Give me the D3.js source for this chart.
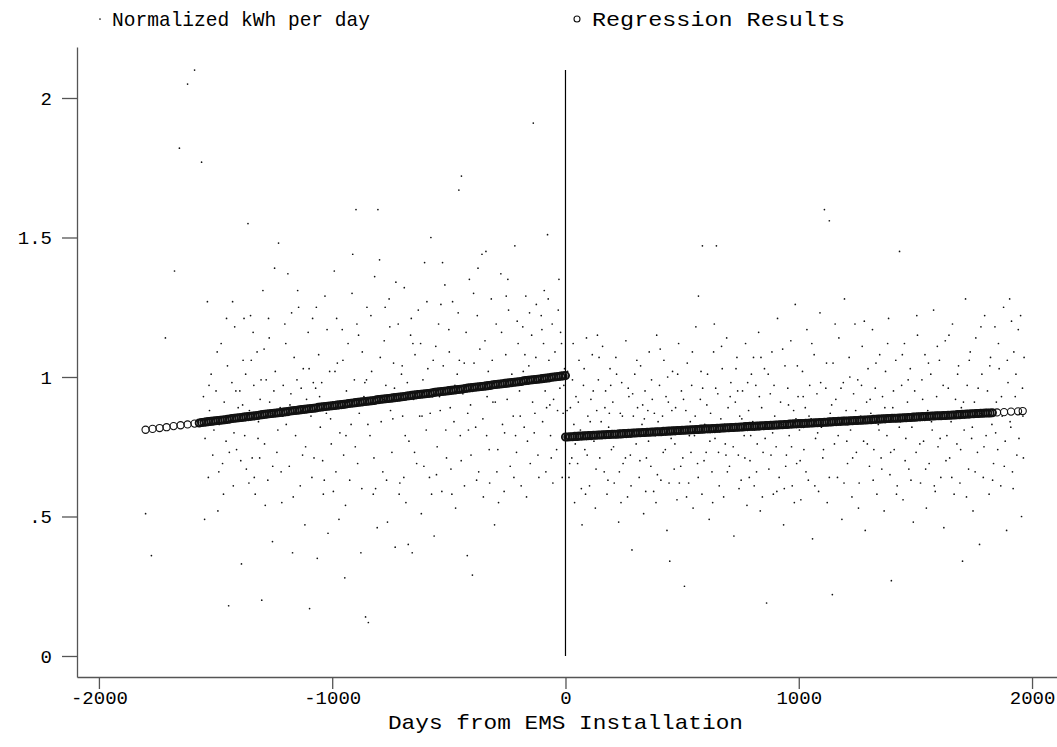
<!DOCTYPE html>
<html>
<head>
<meta charset="utf-8">
<script src="https://cdn.jsdelivr.net/npm/d3@7"></script>
<style>
  body { margin: 0; background: #fff; }
  text { font-family: "Liberation Mono", "DejaVu Sans Mono", monospace; fill: #000; }
</style>
</head>
<body>
<div id="chart"></div>
<script>
// Axis ticks
const xTicks = [-2000, -1000, 0, 1000, 2000];
const yTicks = [0, 0.5, 1, 1.5, 2];
const yTickLabels = ["0", ".5", "1", "1.5", "2"];

// Legend / titles
const legendLabels = ["Normalized kWh per day", "Regression Results"];
const xTitle = "Days from EMS Installation";

// Installation day reference line (day, top value)
const refLine = [0, 2.1];

// Normalized kWh per day, before installation [day, kWh]
const preKwh = [
  [-1800,0.51],[-1775,0.36],[-1715,1.14],[-1676,1.38],[-1655,1.82],[-1620,2.05],[-1590,2.10],[-1560,1.77],[-1547,0.49],[-1535,1.27],
  [-1552,0.93],[-1545,0.78],[-1531,0.64],[-1526,0.88],[-1519,1.01],[-1512,0.72],
  [-1498,0.95],[-1490,0.52],[-1484,0.83],[-1476,1.12],[-1470,0.69],[-1463,0.91],[-1455,0.77],[-1449,1.04],
  [-1444,0.18],[-1438,0.86],[-1430,0.98],[-1424,0.61],[-1418,1.18],[-1410,0.74],[-1403,0.89],
  [-1396,0.95],[-1389,0.33],[-1382,1.06],[-1375,0.79],[-1368,0.67],[-1361,1.55],[-1355,0.88],[-1350,1.22],
  [-1343,0.71],[-1336,0.97],[-1330,0.58],[-1322,1.09],[-1316,0.84],[-1309,0.92],[-1302,0.20],
  [-1297,1.31],[-1290,0.76],[-1283,0.99],[-1276,0.63],[-1270,1.14],[-1263,0.87],[-1256,0.41],[-1250,0.95],
  [-1244,1.02],[-1237,0.73],[-1230,1.48],[-1223,0.89],[-1216,0.55],[-1210,0.97],[-1203,1.19],
  [-1197,0.83],[-1190,1.37],[-1184,0.68],[-1177,0.94],[-1170,0.37],[-1163,1.07],[-1157,0.79],[-1151,0.99],
  [-1144,1.25],[-1137,0.61],[-1130,0.88],[-1124,1.03],[-1117,0.47],[-1110,0.92],[-1103,1.16],
  [-1097,0.17],[-1091,0.86],[-1084,1.21],[-1078,0.71],[-1071,0.96],[-1064,0.35],[-1058,1.08],[-1051,0.82],
  [-1045,0.98],[-1038,0.58],[-1031,1.29],[-1025,0.87],[-1018,0.44],[-1011,1.02],[-1004,0.76],
  [-998,0.91],[-991,1.38],[-984,0.66],[-978,1.05],[-971,0.49],[-964,0.89],[-957,1.17],[-951,0.72],
  [-946,0.28],[-939,0.95],[-932,1.12],[-925,0.63],[-919,0.83],[-912,1.44],[-905,0.99],
  [-898,1.60],[-891,0.69],[-884,0.87],[-877,0.37],[-871,1.09],[-864,0.93],[-857,0.14],[-851,1.25],
  [-845,0.12],[-838,0.79],[-831,1.02],[-824,0.58],[-818,1.36],[-811,0.91],[-804,1.60],
  [-797,1.42],[-790,0.84],[-783,0.66],[-777,1.13],[-770,0.97],[-763,0.48],[-756,1.28],[-750,0.88],
  [-744,0.73],[-737,1.05],[-730,0.39],[-724,0.94],[-717,1.19],[-710,0.62],[-703,1.01],
  [-698,0.86],[-691,1.32],[-684,0.55],[-678,0.98],[-671,0.77],[-664,1.15],[-657,0.37],[-651,0.92],
  [-645,1.08],[-638,0.69],[-631,1.24],[-625,0.86],[-618,0.51],[-611,0.99],[-604,1.41],
  [-597,0.81],[-590,1.03],[-583,0.64],[-577,1.50],[-570,0.93],[-563,0.43],[-556,1.11],[-550,0.75],
  [-544,1.19],[-537,0.88],[-530,0.59],[-524,1.04],[-517,1.33],[-510,0.71],[-503,0.96],
  [-498,1.09],[-491,0.67],[-484,1.27],[-478,0.84],[-471,0.53],[-464,1.01],[-457,1.67],[-451,0.79],
  [-446,1.72],[-440,0.94],[-433,0.61],[-426,1.16],[-419,0.87],[-412,1.35],[-405,0.72],
  [-399,0.29],[-392,1.05],[-385,0.82],[-378,1.22],[-372,0.66],[-365,0.97],[-358,1.44],[-352,0.57],
  [-345,1.13],[-338,0.79],[-331,1.02],[-325,0.62],[-318,1.28],[-311,0.91],[-304,0.47],
  [-297,1.19],[-290,0.74],[-283,0.98],[-277,1.37],[-270,0.83],[-263,0.59],[-256,1.08],[-250,0.92],
  [-244,1.24],[-237,0.68],[-230,1.01],[-224,0.86],[-217,1.47],[-210,0.73],[-203,1.12],
  [-197,0.95],[-190,0.61],[-183,1.18],[-177,0.82],[-170,1.29],[-163,0.77],[-157,1.04],[-151,0.69],
  [-145,1.15],[-138,1.91],[-131,0.87],[-125,1.26],[-118,0.72],[-111,0.99],[-104,1.22],
  [-98,0.84],[-91,1.31],[-84,0.66],[-77,1.51],[-71,1.06],[-64,0.79],[-57,1.19],[-51,0.92],
  [-45,1.09],[-38,0.74],[-31,1.24],[-24,0.96],[-17,1.12],[-10,0.87],[-4,1.03],
  [-1528,0.97],[-1507,0.81],[-1493,1.09],[-1466,0.58],[-1441,0.73],[-1427,1.27],[-1413,0.95],[-1392,0.70],[-1371,1.01],[-1357,0.62],
  [-1339,1.16],[-1318,0.78],[-1305,0.99],[-1287,0.54],[-1268,0.91],[-1247,1.39],[-1233,0.81],[-1219,0.66],[-1199,1.12],[-1181,0.90],
  [-1167,0.57],[-1148,1.31],[-1133,0.96],[-1114,0.75],[-1099,1.03],[-1087,0.64],[-1068,1.25],[-1054,0.93],[-1041,0.70],[-1022,1.17],
  [-1007,0.85],[-995,0.59],[-981,1.21],[-967,0.80],[-954,1.06],[-943,0.54],[-928,0.91],[-915,1.30],[-901,0.75],[-887,1.15],
  [-873,0.60],[-860,0.98],[-847,0.83],[-834,1.22],[-821,0.71],[-807,0.46],[-794,1.07],[-780,0.92],[-767,0.63],[-753,1.18],
  [-740,0.85],[-727,1.34],[-713,0.58],[-700,1.04],[-687,0.79],[-674,0.40],[-661,1.21],[-647,0.73],[-634,0.95],[-621,1.12],
  [-607,0.68],[-594,1.27],[-580,0.87],[-567,1.06],[-553,0.65],[-540,0.93],[-527,1.41],[-513,0.81],[-500,1.17],[-487,0.58],
  [-474,0.97],[-460,1.23],[-447,0.70],[-434,1.05],[-421,0.36],[-407,0.90],[-394,1.30],[-381,0.63],[-367,1.10],[-354,0.85],
  [-341,1.45],[-327,0.74],[-314,1.06],[-301,0.91],[-287,0.55],[-274,1.16],[-261,0.80],[-247,1.35],[-234,0.97],[-221,0.64],
  [-207,1.20],[-194,0.86],[-181,1.02],[-167,0.57],[-154,1.23],[-141,0.91],[-127,1.07],[-114,0.64],[-101,1.17],[-87,0.95],
  [-74,1.28],[-61,0.71],[-47,1.01],[-34,0.88],[-21,1.16],[-7,0.97],[-14,0.64],[-28,1.35],[-54,0.62],[-81,0.89],
  [-1378,1.21],[-1334,0.64],[-1292,1.10],[-1255,0.68],[-1212,0.86],[-1174,1.23],[-1127,0.72],[-1081,0.98],[-1034,0.63],[-988,1.02],
  [-941,0.79],[-894,1.19],[-853,0.99],[-814,0.60],[-773,1.25],[-733,0.96],[-693,0.64],[-654,1.12],[-615,0.86],[-574,0.58],
  [-534,1.26],[-494,0.89],[-455,1.06],[-416,0.81],[-375,1.39],[-336,0.93],[-294,0.66],[-254,1.29],[-214,0.79],[-174,1.08],
  [-134,0.80],[-94,1.12],[-67,0.90],[-1486,0.66],[-1453,1.21],[-1421,0.80],[-1384,0.90],[-1347,1.06],[-1311,0.71],[-1273,1.21]
];

// Normalized kWh per day, after installation [day, kWh]
const postKwh = [
  [4,0.78],[9,1.02],[15,0.64],[21,0.89],[27,0.71],[33,1.12],[39,0.55],[45,0.93],
  [52,0.69],[58,1.06],[64,0.81],[71,0.47],[77,0.97],[83,0.74],[90,1.14],[96,0.86],
  [103,0.61],[109,0.92],[115,1.08],[122,0.77],[128,0.53],[134,0.88],[141,0.99],[147,0.71],
  [153,0.84],[159,1.11],[166,0.66],[172,0.95],[178,0.58],[185,0.82],[191,1.03],[197,0.74],
  [203,0.91],[209,0.62],[216,1.07],[222,0.79],[228,0.48],[235,0.87],[241,0.98],[247,0.69],
  [253,0.81],[259,1.13],[266,0.57],[272,0.93],[278,0.72],[285,0.38],[291,0.86],[297,1.01],
  [303,0.76],[309,0.89],[316,0.64],[322,1.04],[328,0.83],[335,0.51],[341,0.95],[347,0.71],
  [353,0.88],[359,1.09],[366,0.68],[372,0.92],[378,0.59],[385,0.79],[391,1.15],[397,0.84],
  [403,0.97],[409,0.63],[416,0.86],[422,1.06],[428,0.74],[435,0.45],[441,0.91],[447,0.34],
  [453,0.78],[459,1.02],[466,0.67],[472,0.89],[478,0.56],[485,1.12],[491,0.81],[497,0.95],
  [503,0.71],[510,0.25],[516,0.88],[522,1.05],[528,0.62],[535,0.84],[541,0.97],[547,0.53],
  [553,0.79],[559,1.18],[566,0.69],[570,1.29],[578,0.92],[585,0.58],[587,1.47],[597,0.83],
  [603,0.73],[609,1.01],[616,0.49],[622,0.87],[628,0.66],[635,1.09],[641,0.78],[647,1.47],
  [653,0.94],[659,0.61],[666,0.85],[672,1.03],[678,0.57],[685,0.76],[691,1.14],[697,0.89],
  [703,0.68],[709,0.98],[716,0.81],[722,0.43],[728,0.91],[735,1.07],[741,0.72],[747,0.86],
  [753,0.63],[759,0.95],[766,0.79],[772,1.12],[778,0.54],[785,0.88],[791,0.70],[797,1.01],
  [803,0.84],[809,0.61],[816,0.97],[822,0.76],[828,1.16],[835,0.52],[841,0.89],[847,0.73],
  [853,1.03],[862,0.19],[866,0.82],[872,0.67],[878,0.94],[885,1.09],[891,0.58],[897,0.86],
  [903,0.75],[909,1.21],[916,0.64],[922,0.91],[928,0.83],[935,0.47],[941,1.04],[947,0.72],
  [953,0.96],[959,0.79],[966,1.13],[972,0.61],[978,0.88],[985,1.26],[991,0.69],[997,0.93],
  [1003,0.81],[1009,0.56],[1016,1.02],[1022,0.74],[1028,0.89],[1035,1.17],[1041,0.63],[1047,0.97],
  [1053,0.85],[1059,0.42],[1066,1.08],[1072,0.78],[1078,0.94],[1085,0.59],[1091,1.23],[1097,0.82],
  [1103,0.71],[1110,1.60],[1116,0.96],[1122,0.55],[1131,1.56],[1135,0.87],[1144,0.22],[1147,1.05],
  [1153,0.76],[1159,0.92],[1166,0.64],[1172,1.14],[1178,0.83],[1185,0.49],[1191,0.98],[1196,1.28],
  [1203,0.88],[1209,0.69],[1216,1.07],[1222,0.81],[1228,0.57],[1235,0.94],[1241,1.19],[1247,0.73],
  [1253,0.99],[1259,0.62],[1266,0.86],[1272,1.11],[1278,0.77],[1285,0.45],[1291,0.91],[1297,1.03],
  [1303,0.68],[1309,0.87],[1316,1.17],[1322,0.74],[1328,0.96],[1335,0.58],[1341,0.83],[1347,1.08],
  [1353,0.71],[1359,0.93],[1366,0.52],[1372,1.02],[1378,0.79],[1385,1.21],[1391,0.65],[1397,0.27],
  [1403,0.89],[1409,0.74],[1416,1.06],[1422,0.61],[1432,1.45],[1435,0.84],[1441,0.97],[1447,0.56],
  [1453,1.12],[1459,0.78],[1466,0.91],[1472,0.67],[1478,1.03],[1485,0.82],[1491,0.48],[1497,0.95],
  [1503,0.73],[1509,1.15],[1516,0.86],[1522,0.62],[1528,0.99],[1535,0.77],[1541,1.08],[1547,0.53],
  [1553,0.88],[1559,0.69],[1566,1.01],[1572,0.81],[1578,1.24],[1585,0.59],[1591,0.93],[1597,0.75],
  [1603,1.06],[1609,0.64],[1616,0.87],[1622,0.46],[1628,1.13],[1635,0.79],[1641,0.96],[1647,0.71],
  [1653,0.84],[1659,1.19],[1666,0.58],[1672,0.92],[1678,0.76],[1685,1.04],[1691,0.62],[1697,0.89],
  [1702,0.34],[1709,0.81],[1715,1.28],[1722,0.97],[1728,0.67],[1735,1.09],[1741,0.78],[1747,0.52],
  [1753,0.91],[1759,1.14],[1766,0.73],[1775,0.40],[1778,0.87],[1785,1.01],[1791,0.64],[1797,1.22],
  [1803,0.79],[1809,0.95],[1816,0.58],[1822,1.07],[1828,0.83],[1835,0.69],[1841,1.18],[1847,0.91],
  [1853,0.74],[1859,1.03],[1866,0.61],[1872,0.86],[1878,1.25],[1885,0.77],[1891,0.45],[1897,0.98],
  [1904,1.28],[1909,0.82],[1916,0.66],[1922,1.09],[1928,0.93],[1935,0.72],[1941,1.17],[1947,0.87],
  [1955,0.50],[1959,0.96],[1963,0.71],
  [7,0.88],[18,0.69],[30,0.99],[42,0.76],[55,0.91],[68,0.60],[80,1.03],[93,0.72],[106,0.84],[119,0.95],
  [131,0.67],[144,1.07],[157,0.78],[169,0.89],[182,0.63],[194,0.97],[206,0.75],[219,1.01],[231,0.66],[244,0.86],
  [257,0.71],[269,0.96],[281,0.61],[294,0.80],[306,1.06],[319,0.70],[331,0.90],[344,0.59],[356,0.77],[369,0.99],
  [381,0.87],[394,0.65],[406,1.10],[419,0.73],[431,0.93],[444,0.62],[456,0.88],[469,0.76],[481,1.01],[494,0.68],
  [506,0.92],[519,0.57],[531,0.79],[544,1.09],[556,0.86],[569,0.64],[581,1.02],[594,0.70],[606,0.90],[619,0.77],
  [631,0.55],[644,0.96],[656,0.73],[669,1.11],[681,0.83],[694,0.66],[706,0.93],[719,0.75],[731,1.03],[744,0.60],
  [756,0.85],[769,0.71],[781,0.98],[794,0.79],[806,1.07],[819,0.66],[831,0.93],[844,0.57],[856,0.78],[869,1.01],
  [881,0.72],[894,0.97],[906,0.59],[919,0.84],[931,1.10],[944,0.68],[956,0.90],[969,0.75],[981,0.55],[994,1.04],
  [1006,0.70],[1019,0.93],[1031,0.66],[1044,0.86],[1056,1.12],[1069,0.61],[1081,0.80],[1094,0.98],[1106,0.74],[1119,1.05],
  [1131,0.64],[1141,0.90],[1156,1.19],[1169,0.79],[1181,0.96],[1194,0.62],[1206,0.77],[1219,1.00],[1231,0.71],[1244,0.88],
  [1256,0.53],[1269,0.97],[1281,1.20],[1294,0.76],[1306,0.92],[1319,0.63],[1331,1.05],[1344,0.81],[1356,0.67],[1369,0.89],
  [1381,1.12],[1394,0.73],[1406,0.95],[1419,0.58],[1431,0.82],[1444,1.08],[1456,0.70],[1469,0.99],[1481,0.63],[1494,0.86],
  [1506,1.22],[1519,0.76],[1531,0.92],[1544,0.67],[1556,1.05],[1569,0.84],[1581,0.61],[1594,1.11],[1606,0.78],[1619,0.97],
  [1631,0.70],[1644,1.15],[1656,0.64],[1669,0.86],[1681,1.01],[1694,0.74],[1706,0.91],[1719,0.57],[1731,1.06],[1744,0.82],
  [1756,0.66],[1769,0.96],[1781,1.18],[1794,0.75],[1806,0.88],[1819,1.04],[1831,0.63],[1844,0.80],[1856,1.12],[1869,0.93],
  [1881,0.68],[1894,1.06],[1906,0.84],[1919,0.60],[1931,1.01],[1944,0.78],[1951,1.22],[1961,0.86],[1966,1.07],[1912,1.20],
  [36,0.83],[86,0.58],[137,1.15],[188,0.87],[238,0.55],[288,0.94],[338,0.85],[388,0.55],[438,1.00],[488,0.62],
  [538,0.73],[588,0.96],[638,1.19],[688,0.72],[738,0.95],[788,0.64],[838,1.07],[888,0.80],[938,0.60],[988,0.85]
];

// Regression results (fitted kWh), before installation [day, fit]
const preFit = [
  [-1800,0.811],[-1770,0.814],[-1740,0.817],[-1710,0.820],[-1680,0.824],[-1650,0.827],[-1620,0.830],[-1590,0.833],
  [-1570,0.835],[-1560,0.837],[-1550,0.838],[-1540,0.839],[-1530,0.840],[-1520,0.841],[-1510,0.842],[-1500,0.843],
  [-1490,0.844],[-1480,0.845],[-1470,0.846],[-1460,0.847],[-1450,0.848],[-1440,0.849],[-1430,0.851],[-1420,0.852],
  [-1410,0.853],[-1400,0.854],[-1390,0.855],[-1380,0.856],[-1370,0.857],[-1360,0.858],[-1350,0.859],[-1340,0.860],
  [-1330,0.861],[-1320,0.862],[-1310,0.864],[-1300,0.865],[-1290,0.866],[-1280,0.867],[-1270,0.868],[-1260,0.869],
  [-1250,0.870],[-1240,0.871],[-1230,0.872],[-1220,0.873],[-1210,0.874],[-1200,0.875],[-1190,0.876],[-1180,0.878],
  [-1170,0.879],[-1160,0.880],[-1150,0.881],[-1140,0.882],[-1130,0.883],[-1120,0.884],[-1110,0.885],[-1100,0.886],
  [-1090,0.887],[-1080,0.888],[-1070,0.889],[-1060,0.891],[-1050,0.892],[-1040,0.893],[-1030,0.894],[-1020,0.895],
  [-1010,0.896],[-1000,0.897],[-990,0.898],[-980,0.899],[-970,0.900],[-960,0.901],[-950,0.902],[-940,0.903],
  [-930,0.905],[-920,0.906],[-910,0.907],[-900,0.908],[-890,0.909],[-880,0.910],[-870,0.911],[-860,0.912],
  [-850,0.913],[-840,0.914],[-830,0.915],[-820,0.916],[-810,0.918],[-800,0.919],[-790,0.920],[-780,0.921],
  [-770,0.922],[-760,0.923],[-750,0.924],[-740,0.925],[-730,0.926],[-720,0.927],[-710,0.928],[-700,0.929],
  [-690,0.930],[-680,0.932],[-670,0.933],[-660,0.934],[-650,0.935],[-640,0.936],[-630,0.937],[-620,0.938],
  [-610,0.939],[-600,0.940],[-590,0.941],[-580,0.942],[-570,0.943],[-560,0.945],[-550,0.946],[-540,0.947],
  [-530,0.948],[-520,0.949],[-510,0.950],[-500,0.951],[-490,0.952],[-480,0.953],[-470,0.954],[-460,0.955],
  [-450,0.956],[-440,0.957],[-430,0.959],[-420,0.960],[-410,0.961],[-400,0.962],[-390,0.963],[-380,0.964],
  [-370,0.965],[-360,0.966],[-350,0.967],[-340,0.968],[-330,0.969],[-320,0.970],[-310,0.972],[-300,0.973],
  [-290,0.974],[-280,0.975],[-270,0.976],[-260,0.977],[-250,0.978],[-240,0.979],[-230,0.980],[-220,0.981],
  [-210,0.982],[-200,0.983],[-190,0.984],[-180,0.986],[-170,0.987],[-160,0.988],[-150,0.989],[-140,0.990],
  [-130,0.991],[-120,0.992],[-110,0.993],[-100,0.994],[-90,0.995],[-80,0.996],[-70,0.997],[-60,0.999],
  [-50,1.000],[-40,1.001],[-30,1.002],[-20,1.003],[-10,1.004],[0,1.005]
];

// Regression results (fitted kWh), after installation [day, fit]
const postFit = [
  [0,0.785],[10,0.785],[20,0.786],[30,0.786],[40,0.787],[50,0.787],[60,0.788],[70,0.788],[80,0.789],[90,0.789],
  [100,0.790],[110,0.790],[120,0.791],[130,0.791],[140,0.792],[150,0.792],[160,0.793],[170,0.793],[180,0.794],[190,0.794],
  [200,0.795],[210,0.795],[220,0.795],[230,0.796],[240,0.796],[250,0.797],[260,0.797],[270,0.798],[280,0.798],[290,0.799],
  [300,0.799],[310,0.800],[320,0.800],[330,0.801],[340,0.801],[350,0.802],[360,0.802],[370,0.803],[380,0.803],[390,0.804],
  [400,0.804],[410,0.804],[420,0.805],[430,0.805],[440,0.806],[450,0.806],[460,0.807],[470,0.807],[480,0.808],[490,0.808],
  [500,0.809],[510,0.809],[520,0.810],[530,0.810],[540,0.811],[550,0.811],[560,0.812],[570,0.812],[580,0.813],[590,0.813],
  [600,0.814],[610,0.814],[620,0.814],[630,0.815],[640,0.815],[650,0.816],[660,0.816],[670,0.817],[680,0.817],[690,0.818],
  [700,0.818],[710,0.819],[720,0.819],[730,0.820],[740,0.820],[750,0.821],[760,0.821],[770,0.822],[780,0.822],[790,0.823],
  [800,0.823],[810,0.823],[820,0.824],[830,0.824],[840,0.825],[850,0.825],[860,0.826],[870,0.826],[880,0.827],[890,0.827],
  [900,0.828],[910,0.828],[920,0.829],[930,0.829],[940,0.830],[950,0.830],[960,0.831],[970,0.831],[980,0.832],[990,0.832],
  [1000,0.833],[1010,0.833],[1020,0.833],[1030,0.834],[1040,0.834],[1050,0.835],[1060,0.835],[1070,0.836],[1080,0.836],[1090,0.837],
  [1100,0.837],[1110,0.838],[1120,0.838],[1130,0.839],[1140,0.839],[1150,0.840],[1160,0.840],[1170,0.841],[1180,0.841],[1190,0.842],
  [1200,0.842],[1210,0.842],[1220,0.843],[1230,0.843],[1240,0.844],[1250,0.844],[1260,0.845],[1270,0.845],[1280,0.846],[1290,0.846],
  [1300,0.847],[1310,0.847],[1320,0.848],[1330,0.848],[1340,0.849],[1350,0.849],[1360,0.850],[1370,0.850],[1380,0.851],[1390,0.851],
  [1400,0.852],[1410,0.852],[1420,0.852],[1430,0.853],[1440,0.853],[1450,0.854],[1460,0.854],[1470,0.855],[1480,0.855],[1490,0.856],
  [1500,0.856],[1510,0.857],[1520,0.857],[1530,0.858],[1540,0.858],[1550,0.859],[1560,0.859],[1570,0.860],[1580,0.860],[1590,0.861],
  [1600,0.861],[1610,0.861],[1620,0.862],[1630,0.862],[1640,0.863],[1650,0.863],[1660,0.864],[1670,0.864],[1680,0.865],[1690,0.865],
  [1700,0.866],[1710,0.866],[1720,0.867],[1730,0.867],[1740,0.868],[1750,0.868],[1760,0.869],[1770,0.869],[1780,0.870],[1790,0.870],
  [1800,0.871],[1810,0.871],[1820,0.871],[1830,0.872],[1850,0.873],[1880,0.874],[1910,0.876],[1940,0.877],[1960,0.878]
];

const width = 1057, height = 747;
const margin = { top: 47, right: 0, bottom: 70, left: 77 };

const svg = d3.select("#chart")
  .append("svg")
  .attr("width", width)
  .attr("height", height);

// Scales (axis lines span the full plot region)
const x = d3.scaleLinear()
  .domain([-2094, 2107])
  .range([margin.left, width - margin.right]);

const y = d3.scaleLinear()
  .domain([-0.0753, 2.1828])
  .range([height - margin.bottom, margin.top]);

// Y axis
const yAxis = svg.append("g")
  .attr("transform", `translate(${margin.left},0)`)
  .call(d3.axisLeft(y)
    .tickValues(yTicks)
    .tickFormat((d, i) => yTickLabels[i])
    .tickSize(15)
    .tickPadding(10)
    .tickSizeOuter(0));

// X axis
const xAxis = svg.append("g")
  .attr("transform", `translate(0,${height - margin.bottom})`)
  .call(d3.axisBottom(x)
    .tickValues(xTicks)
    .tickFormat(d => d)
    .tickSize(12)
    .tickSizeOuter(0));

[yAxis, xAxis].forEach(g => {
  g.select(".domain").attr("stroke", "#555").attr("stroke-width", 1.3);
  g.selectAll(".tick line").attr("stroke", "#555").attr("stroke-width", 1.3);
  g.selectAll(".tick text")
    .style("font-family", "Liberation Mono, monospace")
    .style("font-size", "19px")
    .attr("fill", "#000");
});
xAxis.selectAll(".tick text").attr("dy", "0.62em");

// X axis title
svg.append("text")
  .attr("x", x(0))
  .attr("y", height - margin.bottom + 52)
  .attr("text-anchor", "middle")
  .attr("textLength", 355)
  .attr("lengthAdjust", "spacingAndGlyphs")
  .style("font-size", "21px")
  .text(xTitle);

// Installation day reference line
svg.append("line")
  .attr("x1", x(refLine[0]))
  .attr("x2", x(refLine[0]))
  .attr("y1", y(0))
  .attr("y2", y(refLine[1]))
  .attr("stroke", "#000")
  .attr("stroke-width", 1.2);

// Scatter of daily normalized kWh
svg.append("g")
  .selectAll("circle")
  .data(preKwh.concat(postKwh))
  .join("circle")
  .attr("cx", d => x(d[0]))
  .attr("cy", d => y(d[1]))
  .attr("r", 0.85)
  .attr("fill", "#111");

// Regression results as hollow circles; dense runs (daily fits) get a heavier outline
function drawFit(fit) {
  svg.append("g")
    .selectAll("circle")
    .data(fit)
    .join("circle")
    .attr("cx", d => x(d[0]))
    .attr("cy", d => y(d[1]))
    .attr("r", 3.6)
    .attr("fill", "none")
    .attr("stroke", "#111")
    .attr("stroke-width", (d, i) => {
      const prev = fit[i - 1], next = fit[i + 1];
      const gap = Math.min(prev ? d[0] - prev[0] : 99, next ? next[0] - d[0] : 99);
      return gap <= 10 ? 1.9 : 1.1;
    });
}
drawFit(preFit);
drawFit(postFit);

// Legend
const legend = svg.append("g");
legend.append("circle")
  .attr("cx", 100).attr("cy", 19)
  .attr("r", 0.85)
  .attr("fill", "#111");
legend.append("circle")
  .attr("cx", 577).attr("cy", 19)
  .attr("r", 3)
  .attr("fill", "none")
  .attr("stroke", "#111")
  .attr("stroke-width", 1.1);
legend.selectAll("text.lbl")
  .data(legendLabels)
  .join("text")
  .attr("class", "lbl")
  .attr("x", (d, i) => i === 0 ? 112 : 592)
  .attr("y", 26)
  .attr("textLength", (d, i) => i === 0 ? 258 : 253)
  .attr("lengthAdjust", "spacingAndGlyphs")
  .style("font-size", "21px")
  .text(d => d);
</script>
</body>
</html>
